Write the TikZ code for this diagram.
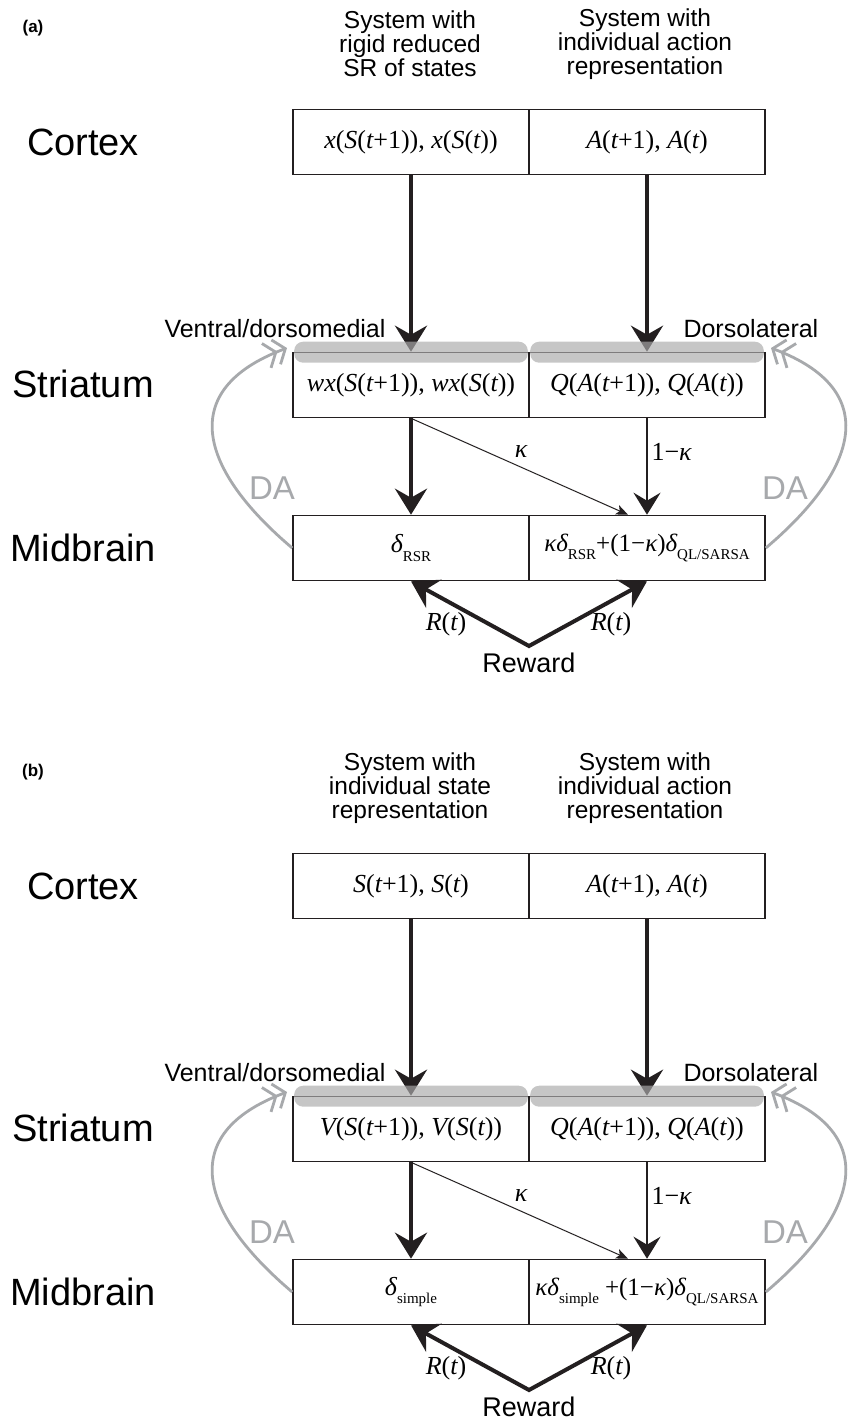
\documentclass[tikz,border=0pt]{standalone}
\usepackage{fontspec}
\setmainfont{Liberation Sans}
\newfontfamily\mf{Liberation Serif}
\usetikzlibrary{arrows.meta,calc}
\definecolor{boxline}{HTML}{231F20}
\definecolor{dagray}{HTML}{A7A9AC}
\definecolor{barcol}{HTML}{ABABAB}
\newcommand{\iv}[1]{{\itshape #1}}
\newcommand{\sbs}[1]{\raisebox{-0.32em}{\fontsize{15}{15}\selectfont #1}}
\tikzset{
 cell/.style={draw=boxline, line width=1.6pt, minimum width=236pt, minimum height=65pt, inner sep=0pt, font=\mf\fontsize{26}{26}\selectfont},
 region/.style={font=\fontsize{38}{38}\selectfont},
 header/.style={align=center, font=\fontsize{24.5}{24}\selectfont},
 sublabel/.style={font=\fontsize{25}{25}\selectfont},
 rewardlabel/.style={font=\fontsize{27}{27}\selectfont, inner sep=1pt},
 bigtip/.tip={Stealth[length=26pt,width=32pt,inset=9pt]},
 thickarrow/.style={line width=4pt, draw=boxline, -bigtip},
 twoarrow/.style={line width=4pt, draw=boxline, bigtip-bigtip},
 medarrow/.style={line width=2.4pt, draw=boxline, -{Stealth[length=22pt,width=27pt,inset=8pt]}},
 thinarrow/.style={line width=1pt, draw=boxline, -{Stealth[length=12pt,width=10pt,inset=3pt]}},
 bar/.style={fill=barcol, fill opacity=0.67, rounded corners=9pt},
 daarc/.style={draw=dagray, line width=2.8pt, -{Straight Barb[length=10pt,width=26pt,sep=-3pt]Straight Barb[length=10pt,width=26pt]}},
 datext/.style={text=dagray, font=\fontsize{33}{33}\selectfont},
 mathlabel/.style={font=\mf\fontsize{26}{26}\selectfont},
 panellabel/.style={font=\bfseries\fontsize{17}{17}\selectfont},
}
\newcommand{\drawpanel}[8]{%
\begin{scope}[yshift=#2]
\node[panellabel] (#1lab) at (33,28) {#3};
\node[header] (#1hL) at (410,44) {#4};
\node[header] (#1hR) at (645,44) {System with\\individual action\\representation};
\node[region] (#1cx) at (83,142) {Cortex};
\node[region] (#1st) at (83,384) {Striatum};
\node[region] (#1mb) at (83,548) {Midbrain};
\node[cell] (#1cL) at (411,142) {#5};
\node[cell] (#1cR) at (647,142) {\iv{A}(\iv{t}+1), \iv{A}(\iv{t})};
\node[cell] (#1sL) at (411,385) {#6};
\node[cell] (#1sR) at (647,385) {\iv{Q}(\iv{A}(\iv{t}+1)), \iv{Q}(\iv{A}(\iv{t}))};
\node[cell] (#1mL) at (411,548) {#7};
\node[cell, font=\mf\fontsize{25}{25}\selectfont] (#1mR) at (647,548) {#8};
\draw[thickarrow] (#1cL.south) -- (#1sL.north);
\draw[thickarrow] (#1cR.south) -- (#1sR.north);
\draw[thickarrow] (#1sL.south) -- (#1mL.north);
\draw[medarrow] (#1sR.south) -- (#1mR.north);
\coordinate (#1dt) at ($(#1mR.north west)!0.42!(#1mR.north east)$);
\draw[thinarrow] (#1sL.south) -- (#1dt);
\fill[bar] ([shift={(2pt,10pt)}]#1sL.north west) rectangle ([shift={(-2pt,-11pt)}]#1sL.north east);
\fill[bar] ([shift={(2pt,10pt)}]#1sR.north west) rectangle ([shift={(-2pt,-11pt)}]#1sR.north east);
\node[sublabel, anchor=east] (#1ven) at (389,329) {Ventral/dorsomedial};
\node[sublabel, anchor=west] (#1dor) at (680,329) {Dorsolateral};
\node[mathlabel] (#1k) at (521,452) {\iv{κ}};
\node[mathlabel, anchor=west] (#1k1) at (648,452) {1−\iv{κ}};
\coordinate (#1aL) at (287,348);
\coordinate (#1aR) at (771,348);
\draw[daarc] (#1mL.west) .. controls (200,470) and (175,390) .. (#1aL);
\draw[daarc] (#1mR.east) .. controls (858,470) and (883,390) .. (#1aR);
\node[datext] (#1daL) at (272,488) {DA};
\node[datext] (#1daR) at (785,488) {DA};
\coordinate (#1ap) at (529,646);
\draw[twoarrow] (#1mL.south) -- (#1ap) -- (#1mR.south);
\node[mathlabel] (#1r1) at (446,624) {\iv{R}(\iv{t})};
\node[mathlabel] (#1r2) at (611,624) {\iv{R}(\iv{t})};
\node[rewardlabel] (#1rw) at (529,663) {Reward};
\end{scope}}
\begin{document}
\begin{tikzpicture}[x=1pt,y=-1pt]
\useasboundingbox (0,0) rectangle (852,1424);
\fill[white] (0,0) rectangle (852,1424);
\drawpanel{a}{0pt}{(a)}{System with\\rigid reduced\\SR of states}%
 {\iv{x}(\iv{S}(\iv{t}+1)), \iv{x}(\iv{S}(\iv{t}))}%
 {\iv{wx}(\iv{S}(\iv{t}+1)), \iv{wx}(\iv{S}(\iv{t}))}%
 {\iv{δ}\sbs{RSR}}%
 {\iv{κδ}\sbs{RSR}+(1−\iv{κ})\iv{δ}\sbs{QL/SARSA}}
\drawpanel{b}{-744pt}{(b)}{System with\\individual state\\representation}%
 {\iv{S}(\iv{t}+1), \iv{S}(\iv{t})}%
 {\iv{V}(\iv{S}(\iv{t}+1)), \iv{V}(\iv{S}(\iv{t}))}%
 {\iv{δ}\sbs{simple}}%
 {\iv{κδ}\sbs{simple}\hspace{6pt}+(1−\iv{κ})\iv{δ}\sbs{QL/SARSA}}
\end{tikzpicture}
\end{document}
